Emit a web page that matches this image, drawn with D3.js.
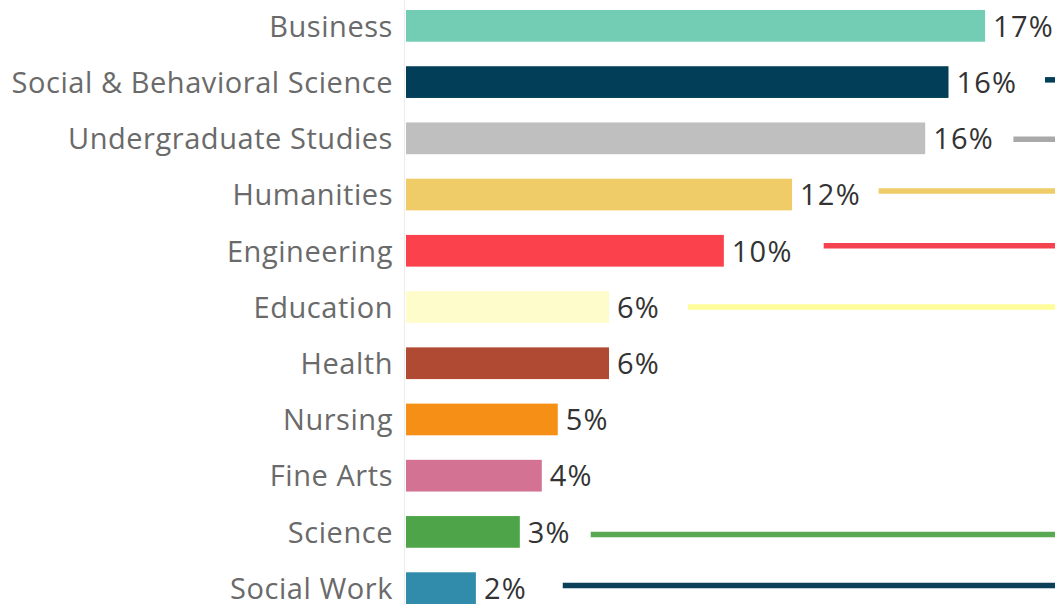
<!DOCTYPE html>
<html>
<head>
<meta charset="utf-8">
<script src="https://cdn.jsdelivr.net/npm/d3@7"></script>
<style>
  html, body { margin: 0; padding: 0; background: #fff; }
  svg { display: block; }
</style>
</head>
<body>
<svg id="chart" width="1055" height="605"></svg>
<script>
const categories = ["Business", "Social & Behavioral Science", "Undergraduate Studies", "Humanities", "Engineering", "Education", "Health", "Nursing", "Fine Arts", "Science", "Social Work"];
const values = [17.4, 16.3, 15.6, 11.6, 9.55, 6.1, 6.1, 4.56, 4.08, 3.42, 2.1];
const barColors = ["#73cdb5", "#023e57", "#bebfbe", "#efcc68", "#fb414b", "#fffccb", "#b14a33", "#f68f15", "#d47293", "#4ea549", "#318cac"];
// partial connector lines from the neighbouring view (start in % units, row offset in bands)
const leaderCats = ["Social & Behavioral Science", "Undergraduate Studies", "Humanities", "Engineering", "Education", "Science", "Social Work"];
const leaderStart = [19.2, 18.25, 14.2, 12.55, 8.47, 5.55, 4.71];
const leaderShift = [-0.04, 0.015, -0.065, -0.09, 0.0, 0.045, -0.045];
const leaderColors = ["#023e57", "#a9a9a9", "#efcc68", "#f5424f", "#fffd9a", "#58a952", "#0b4058"];

const svg = d3.select("#chart");
const W = 1055, H = 605;
const x = d3.scaleLinear().domain([0, 19.5]).range([406, W]);
const y = d3.scaleBand().domain(categories).range([0, 614]).paddingInner(0.436).paddingOuter(0.178);

// axis line
svg.append("line")
  .attr("x1", x(0) - 1.5).attr("x2", x(0) - 1.5)
  .attr("y1", 0).attr("y2", H)
  .attr("stroke", "#ececec").attr("stroke-width", 1);

// leader lines
svg.append("g").selectAll("line")
  .data(leaderCats.map((c, i) => ({c, s: leaderStart[i], sh: leaderShift[i], col: leaderColors[i]})))
  .join("line")
  .attr("x1", d => x(d.s)).attr("x2", W)
  .attr("y1", d => y(d.c) + y.bandwidth() / 2 + d.sh * y.step())
  .attr("y2", d => y(d.c) + y.bandwidth() / 2 + d.sh * y.step())
  .attr("stroke", d => d.col).attr("stroke-width", 5.5);

const data = categories.map((c, i) => ({c, v: values[i], col: barColors[i]}));

svg.append("g").selectAll("rect")
  .data(data).join("rect")
  .attr("x", x(0)).attr("y", d => y(d.c))
  .attr("width", d => x(d.v) - x(0))
  .attr("height", y.bandwidth())
  .attr("fill", d => d.col);

svg.append("g").selectAll("text")
  .data(data).join("text")
  .attr("x", x(0) - 13)
  .attr("y", d => y(d.c) + y.bandwidth() / 2)
  .attr("dy", "0.37em")
  .attr("text-anchor", "end")
  .attr("font-family", "'Open Sans', sans-serif")
  .attr("font-size", 29)
  .attr("letter-spacing", 0.55)
  .attr("fill", "#6a6a6a")
  .text(d => d.c);

svg.append("g").selectAll("text")
  .data(data).join("text")
  .attr("x", d => x(d.v) + 8)
  .attr("y", d => y(d.c) + y.bandwidth() / 2)
  .attr("dy", "0.37em")
  .attr("font-family", "'Open Sans', sans-serif")
  .attr("font-size", 29)
  .attr("letter-spacing", 1.2)
  .attr("fill", "#333")
  .text(d => Math.round(d.v) + "%");
</script>
</body>
</html>
